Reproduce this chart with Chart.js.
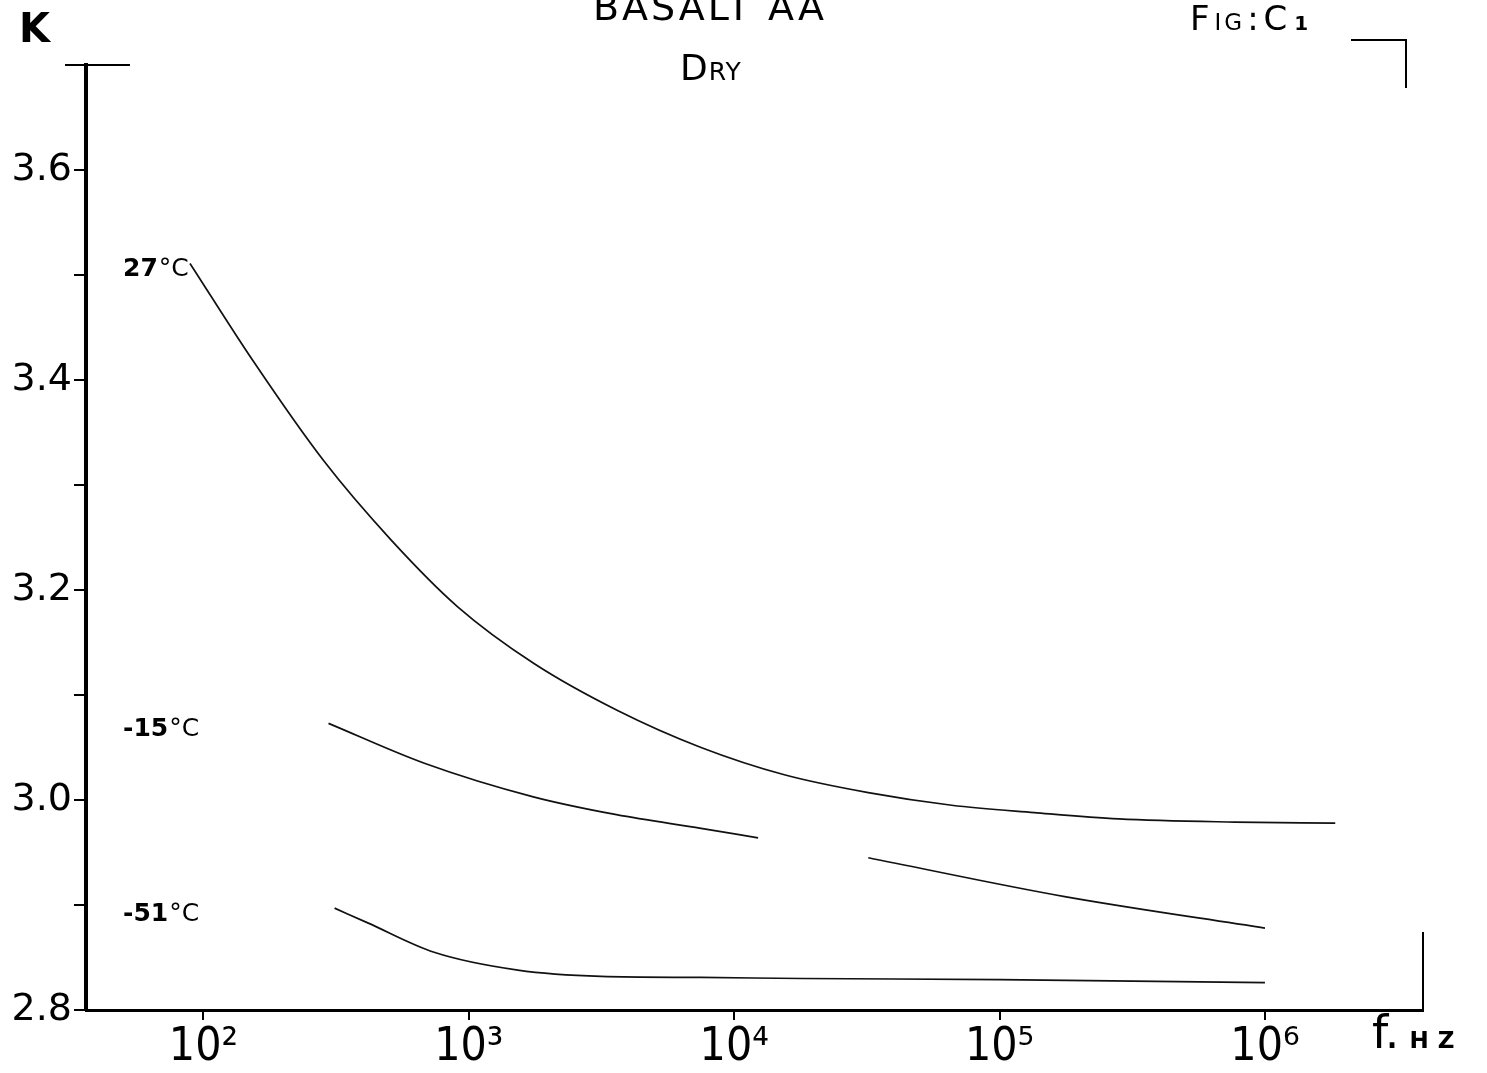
<!DOCTYPE html>
<html>
<head>
<meta charset="utf-8">
<title>Basalt AA - Dry</title>
<script src="https://cdn.jsdelivr.net/npm/chart.js@4.4.1/dist/chart.umd.min.js"></script>
<style>
  html, body { margin: 0; padding: 0; background: #fff; }
  canvas { display: block; }
</style>
</head>
<body>
<canvas id="dielChart" width="1487" height="1073"></canvas>
<script>
// frequency (Hz) and K
const freq27 = [89, 154, 284, 508, 908, 1760, 3650, 7500, 15450, 32000, 66000, 135000, 281000, 771000, 1840000];
const k27 = [3.511, 3.418, 3.323, 3.248, 3.184, 3.130, 3.085, 3.050, 3.024, 3.007, 2.995, 2.988, 2.982, 2.979, 2.978];

// the -15 curve fades out in the scan between ~1.2e4 and ~3e4 Hz
const freqM15 = [296, 680, 1750, 3600, 7500, 12300, 20000, 32000, 176000, 1000000];
const kM15 = [3.073, 3.035, 3.003, 2.986, 2.973, 2.964, null, 2.945, 2.908, 2.878];

const freqM51 = [312, 416, 740, 1530, 3150, 7500, 18000, 100000, 1000000];
const kM51 = [2.897, 2.883, 2.855, 2.838, 2.832, 2.831, 2.830, 2.829, 2.826];

const seriesNames = ['27°C', '-15°C', '-51°C'];

const kTicks = [2.8, 2.9, 3.0, 3.1, 3.2, 3.3, 3.4, 3.5, 3.6];
const kTickLabels = ['2.8', '', '3.0', '', '3.2', '', '3.4', '', '3.6'];
const freqTicks = [1e2, 1e3, 1e4, 1e5, 1e6];
const freqTickLabels = ['10²', '10³', '10⁴', '10⁵', '10⁶'];

const FONT = "'DejaVu Sans', 'Liberation Sans', sans-serif";
const NARROW = "'Liberation Sans Narrow', 'DejaVu Sans Condensed', 'DejaVu Sans', sans-serif";

function toPoints(xs, ys) {
    return xs.map((x, i) => ({ x: x, y: ys[i] }));
}

// draws a run of text pieces with different sizes on one baseline
function drawRun(ctx, x, y, parts) {
    parts.forEach(p => {
        ctx.font = `${p.bold ? 'bold ' : ''}${p.size}px ${FONT}`;
        ctx.fillText(p.t, x, y);
        x += ctx.measureText(p.t).width + (p.gap || 0);
    });
}

const sketchDecor = {
    id: 'sketchDecor',
    afterDraw(chart) {
        const { ctx, chartArea: a } = chart;
        const yScale = chart.scales.y;
        ctx.save();
        ctx.strokeStyle = '#000';
        ctx.fillStyle = '#000';
        ctx.textAlign = 'left';
        ctx.textBaseline = 'alphabetic';

        // bits of the hand drawn frame
        ctx.lineWidth = 2;
        ctx.beginPath();
        ctx.moveTo(a.left - 21, a.top);
        ctx.lineTo(a.left + 44, a.top);
        ctx.moveTo(a.right - 72, a.top - 25);
        ctx.lineTo(a.right - 17, a.top - 25);
        ctx.lineTo(a.right - 17, a.top + 23);
        ctx.moveTo(a.right, a.bottom - 78);
        ctx.lineTo(a.right, a.bottom);
        ctx.stroke();

        // axis names
        ctx.font = `bold 40px ${FONT}`;
        ctx.fillText('K', 19, 42);
        drawRun(ctx, a.right - 51, a.bottom + 38, [
            { t: 'f.', size: 46, gap: 10 },
            { t: 'H', size: 23, bold: true, gap: 9 },
            { t: 'Z', size: 23, bold: true }
        ]);

        // headings
        ctx.font = `38px ${FONT}`;
        ctx.letterSpacing = '3px';
        ctx.textAlign = 'center';
        ctx.fillText('BASALT AA', 710, 20);
        ctx.textAlign = 'left';
        ctx.letterSpacing = '1px';
        drawRun(ctx, 680, 80, [
            { t: 'D', size: 36 },
            { t: 'RY', size: 25 }
        ]);
        ctx.letterSpacing = '3px';
        drawRun(ctx, 1190, 30, [
            { t: 'F', size: 34, gap: 2 },
            { t: 'IG', size: 23, gap: 2 },
            { t: ':', size: 34, gap: 2 },
            { t: 'C', size: 34, gap: 4 },
            { t: '1', size: 20, bold: true }
        ]);
        ctx.letterSpacing = '0px';

        // temperature labels next to each curve start
        chart.data.datasets.forEach((ds, i) => {
            const y0 = yScale.getPixelForValue(ds.data[0].y);
            const name = seriesNames[i];
            drawRun(ctx, a.left + 37, y0 + 13, [
                { t: name.replace('°C', ''), size: 25, bold: true, gap: 1 },
                { t: '°C', size: 25 }
            ]);
        });
        ctx.restore();
    }
};

const lineStyle = {
    borderColor: '#111',
    borderWidth: 1.7,
    pointRadius: 0,
    fill: false,
    cubicInterpolationMode: 'monotone',
    spanGaps: false
};

new Chart(document.getElementById('dielChart'), {
    type: 'line',
    data: {
        datasets: [
            { label: seriesNames[0], data: toPoints(freq27, k27), ...lineStyle },
            { label: seriesNames[1], data: toPoints(freqM15, kM15), ...lineStyle },
            { label: seriesNames[2], data: toPoints(freqM51, kM51), ...lineStyle }
        ]
    },
    options: {
        responsive: false,
        animation: false,
        layout: { padding: { top: 65, right: 64, left: 0, bottom: 0 } },
        plugins: {
            legend: { display: false },
            title: { display: false },
            tooltip: { enabled: false }
        },
        scales: {
            x: {
                type: 'logarithmic',
                min: 36.1,
                max: 3.94e6,
                afterBuildTicks: scale => { scale.ticks = freqTicks.map(v => ({ value: v })); },
                afterFit: scale => { scale.height = 63; },
                border: { display: true, color: '#000', width: 3 },
                grid: { drawOnChartArea: false, drawTicks: true, tickLength: 10, color: '#000', lineWidth: 2 },
                ticks: {
                    autoSkip: false,
                    maxRotation: 0,
                    padding: 0,
                    color: '#000',
                    font: { family: NARROW, size: 46 },
                    callback: (value, index) => freqTickLabels[index]
                }
            },
            y: {
                type: 'linear',
                min: 2.8,
                max: 3.7,
                afterBuildTicks: scale => { scale.ticks = kTicks.map(v => ({ value: v })); },
                afterFit: scale => { scale.width = 86; },
                border: { display: true, color: '#000', width: 4 },
                grid: { drawOnChartArea: false, drawTicks: true, tickLength: 12, color: '#000', lineWidth: 2 },
                ticks: {
                    autoSkip: false,
                    padding: 2,
                    color: '#000',
                    font: { family: FONT, size: 38 },
                    callback: (value, index) => kTickLabels[index]
                }
            }
        }
    },
    plugins: [sketchDecor]
});
</script>
</body>
</html>
